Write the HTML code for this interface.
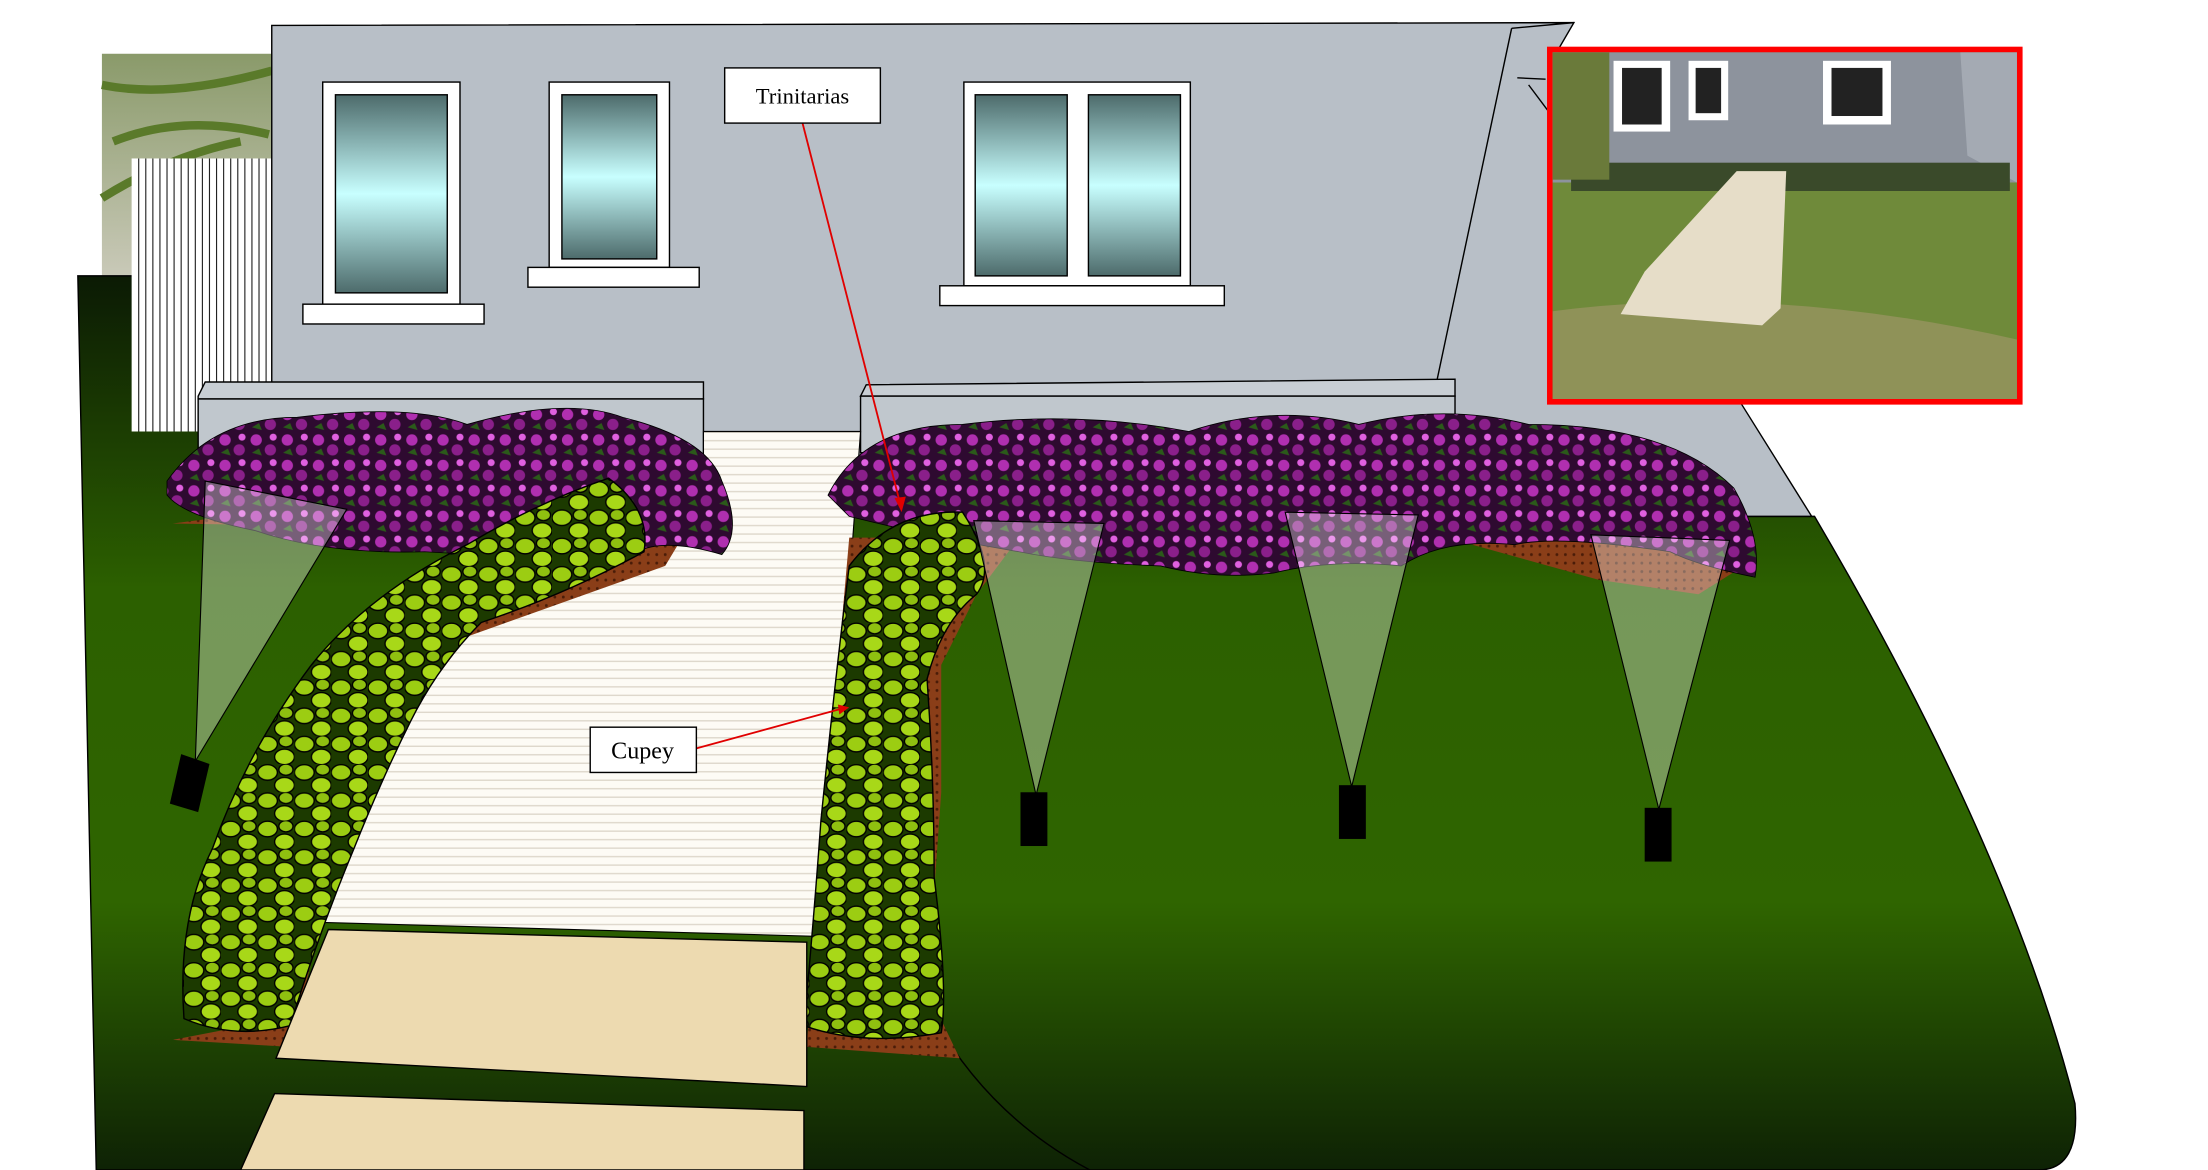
<!DOCTYPE html>
<html><head><meta charset="utf-8"><style>html,body{margin:0;padding:0;background:#fff}svg{display:block}</style></head>
<body>
<svg width="2208" height="1170" viewBox="0 0 1560 827" preserveAspectRatio="none" xmlns="http://www.w3.org/2000/svg">
<defs>
<linearGradient id="lawn" x1="0" y1="0" x2="0" y2="1">
<stop offset="0" stop-color="#0b1a04"/><stop offset="0.35" stop-color="#2c6000"/><stop offset="0.7" stop-color="#2f6500"/><stop offset="1" stop-color="#0e2205"/></linearGradient>
<linearGradient id="win" x1="0" y1="0" x2="0" y2="1">
<stop offset="0" stop-color="#4d6b6b"/><stop offset="0.5" stop-color="#c8ffff"/><stop offset="1" stop-color="#4d6b6b"/></linearGradient>
<pattern id="flw" width="22" height="18" patternUnits="userSpaceOnUse">
<rect width="22" height="18" fill="#2e0a30"/>
<circle cx="5" cy="5" r="4" fill="#b02fb0"/><circle cx="15" cy="12" r="4" fill="#8a1f8a"/><circle cx="17" cy="3" r="2.5" fill="#e060e0"/><path d="M2 14 l5 -3 l2 5z" fill="#2b5a1a"/></pattern>
<pattern id="cup" width="26" height="20" patternUnits="userSpaceOnUse">
<rect width="26" height="20" fill="#1c3a00"/>
<ellipse cx="7" cy="6" rx="7" ry="5.5" fill="#9ccd12" stroke="#000" stroke-width="1"/>
<ellipse cx="19" cy="15" rx="7" ry="5.5" fill="#a8d818" stroke="#000" stroke-width="1"/>
<ellipse cx="20" cy="4" rx="5" ry="4" fill="#8fc010" stroke="#000" stroke-width="1"/></pattern>
<pattern id="walk" width="10" height="6" patternUnits="userSpaceOnUse"><rect width="10" height="6" fill="#fdfbf5"/><rect y="5" width="10" height="1" fill="#ded8cc"/></pattern>
<pattern id="mul" width="6" height="6" patternUnits="userSpaceOnUse"><rect width="6" height="6" fill="#8a3e18"/><circle cx="2" cy="2" r="1" fill="#4a1c08"/></pattern>
<linearGradient id="sky" x1="0" y1="0" x2="0" y2="1"><stop offset="0" stop-color="#8a9a6a"/><stop offset="1" stop-color="#c9c9b8"/></linearGradient>
</defs>
<rect x="72" y="38" width="120" height="157" fill="url(#sky)"/>
<path d="M72 60 Q120 70 192 50 M80 100 Q130 80 190 95 M72 140 Q120 110 170 100" stroke="#5a7a2a" stroke-width="6" fill="none"/>
<path d="M55 195 L192 195 L192 365 L1282 365 Q1420 600 1466 780 Q1470 827 1440 827 L68 827 Z" fill="url(#lawn)" stroke="#000" stroke-width="1"/>
<path d="M660 720 Q700 790 770 827" stroke="#000" fill="none"/>
<rect x="93" y="112" width="100" height="193" fill="#fff"/>
<g stroke="#222" stroke-width="0.8">
<path d="M98 112V305M103 112V305M108 112V305M113 112V305M118 112V305M123 112V305M128 112V305M133 112V305M138 112V305M143 112V305M148 112V305M153 112V305M158 112V305M163 112V305M168 112V305M173 112V305M178 112V305M183 112V305M188 112V305"/></g>
<path d="M192 18 L1112 16 L1098 40 L1230 285 L1280 365 L192 365 Z" fill="#b8bfc7" stroke="#000" stroke-width="1"/>
<path d="M1068 20 L1015 270 M1068 20 L1112 16 M1072 55 L1092 56 M1080 60 L1095 80" stroke="#000" fill="none"/>
<rect x="228" y="58" width="97" height="157" fill="#fff" stroke="#000"/><rect x="237" y="67" width="79" height="140" fill="url(#win)" stroke="#000"/>
<rect x="214" y="215" width="128" height="14" fill="#fff" stroke="#000"/>
<rect x="388" y="58" width="85" height="131" fill="#fff" stroke="#000"/><rect x="397" y="67" width="67" height="116" fill="url(#win)" stroke="#000"/>
<rect x="373" y="189" width="121" height="14" fill="#fff" stroke="#000"/>
<rect x="681" y="58" width="160" height="144" fill="#fff" stroke="#000"/><rect x="689" y="67" width="65" height="128" fill="url(#win)" stroke="#000"/><rect x="769" y="67" width="65" height="128" fill="url(#win)" stroke="#000"/>
<rect x="664" y="202" width="201" height="14" fill="#fff" stroke="#000"/>
<path d="M140 280 L145 270 L497 270 L497 282 L140 282 Z" fill="#c8ced4" stroke="#000"/>
<rect x="140" y="282" width="357" height="40" fill="#c0c7cd" stroke="#000"/>
<path d="M608 280 L612 272 L1028 268 L1028 280 Z" fill="#c8ced4" stroke="#000"/>
<rect x="608" y="280" width="420" height="40" fill="#c0c7cd" stroke="#000"/>
<path d="M497 305 L608 305 L582 662 L228 652 L300 440 L430 390 L497 330 Z" fill="url(#walk)" stroke="#000" stroke-width="0.8"/>
<path d="M122 735 L200 720 L240 510 L290 430 L460 360 L500 350 L470 400 L330 450 L270 530 L230 640 L205 740 Z" fill="url(#mul)"/>
<path d="M570 740 L575 665 L600 380 L720 380 L690 420 L665 470 L665 560 L655 700 L678 748 Z" fill="url(#mul)"/>
<path d="M122 370 L200 360 L480 350 L500 370 L240 372 Z" fill="url(#mul)"/>
<path d="M1040 385 L1100 370 L1240 395 L1200 420 L1130 410 Z" fill="url(#mul)"/>
<path d="M118 340 Q150 295 210 295 Q290 285 330 300 Q400 280 440 295 Q500 310 510 340 Q525 375 510 392 Q470 380 450 390 Q380 395 300 390 Q230 392 180 375 Q130 365 118 350 Z" fill="url(#flw)" stroke="#000" stroke-width="0.6"/>
<path d="M585 350 Q610 300 680 300 Q760 290 840 305 Q900 285 960 300 Q1020 285 1080 300 Q1180 300 1225 345 Q1245 380 1240 408 Q1200 400 1180 390 Q1100 378 1070 385 Q1020 380 990 400 Q940 395 900 405 Q860 410 820 400 Q760 398 720 390 Q660 380 600 365 Z" fill="url(#flw)" stroke="#000" stroke-width="0.6"/>
<path d="M130 720 Q125 650 150 600 Q175 530 220 470 Q260 420 330 385 Q380 355 430 338 Q460 360 455 390 Q400 420 340 440 Q310 470 290 510 Q270 550 250 600 Q225 660 205 725 Q165 735 130 720 Z" fill="url(#cup)" stroke="#000"/>
<path d="M568 725 Q575 650 580 580 Q590 480 600 400 Q630 360 680 362 Q705 400 690 420 Q665 440 655 480 Q660 550 660 620 Q670 700 665 730 Q610 740 568 725 Z" fill="url(#cup)" stroke="#000"/>
<path d="M232 657 L570 666 L570 768 L195 748 Z" fill="#eddab0" stroke="#000"/>
<path d="M194 773 L568 785 L568 827 L170 827 Z" fill="#eddab0" stroke="#000"/>
<g fill="#fff" fill-opacity="0.35" stroke="#000" stroke-width="0.8">
<path d="M145 340 L245 360 L138 538 Z"/>
<path d="M688 368 L780 370 L732 562 Z"/>
<path d="M908 362 L1002 364 L955 556 Z"/>
<path d="M1124 378 L1222 382 L1172 572 Z"/>
</g>
<g fill="#000">
<path d="M128 533 L148 540 L140 574 L120 568 Z"/>
<rect x="721" y="560" width="19" height="38"/>
<rect x="946" y="555" width="19" height="38"/>
<rect x="1162" y="571" width="19" height="38"/>
</g>
<rect x="1095" y="35" width="332" height="249" fill="#7a8a55" stroke="#ff0000" stroke-width="4"/>
<rect x="1097" y="37" width="328" height="92" fill="#8d939d"/>
<path d="M1385 37 L1425 37 L1425 129 L1390 110 Z" fill="#a4aab3"/>
<rect x="1097" y="129" width="328" height="153" fill="#6f8a3a"/>
<path d="M1097 220 Q1250 200 1425 240 L1425 282 L1097 282 Z" fill="#8f9258"/>
<rect x="1110" y="115" width="310" height="20" fill="#3a4a2a"/>
<path d="M1227 121 L1262 121 L1258 218 L1245 230 L1145 222 L1162 192 Z" fill="#e6ddc8"/>
<rect x="1140" y="43" width="40" height="50" fill="#fff"/><rect x="1146" y="48" width="28" height="40" fill="#222"/>
<rect x="1193" y="43" width="28" height="42" fill="#fff"/><rect x="1198" y="48" width="18" height="32" fill="#222"/>
<rect x="1288" y="43" width="48" height="45" fill="#fff"/><rect x="1294" y="48" width="36" height="34" fill="#222"/>
<rect x="1097" y="37" width="40" height="90" fill="#6a7a3a"/>
<g stroke="#e00000" stroke-width="1.3" fill="none">
<path d="M567 87 L637 360"/><path d="M492 529 L598 500"/></g>
<path d="M632 352 L637 362 L640 351 Z M592 498 L600 500 L593 505 Z" fill="#e00000"/>
<rect x="512" y="48" width="110" height="39" fill="#fff" stroke="#000"/>
<text x="567" y="73" font-family="Liberation Serif, serif" font-size="16" text-anchor="middle">Trinitarias</text>
<rect x="417" y="514" width="75" height="32" fill="#fff" stroke="#000"/>
<text x="454" y="536" font-family="Liberation Serif, serif" font-size="17" text-anchor="middle">Cupey</text>
</svg>
</body></html>
